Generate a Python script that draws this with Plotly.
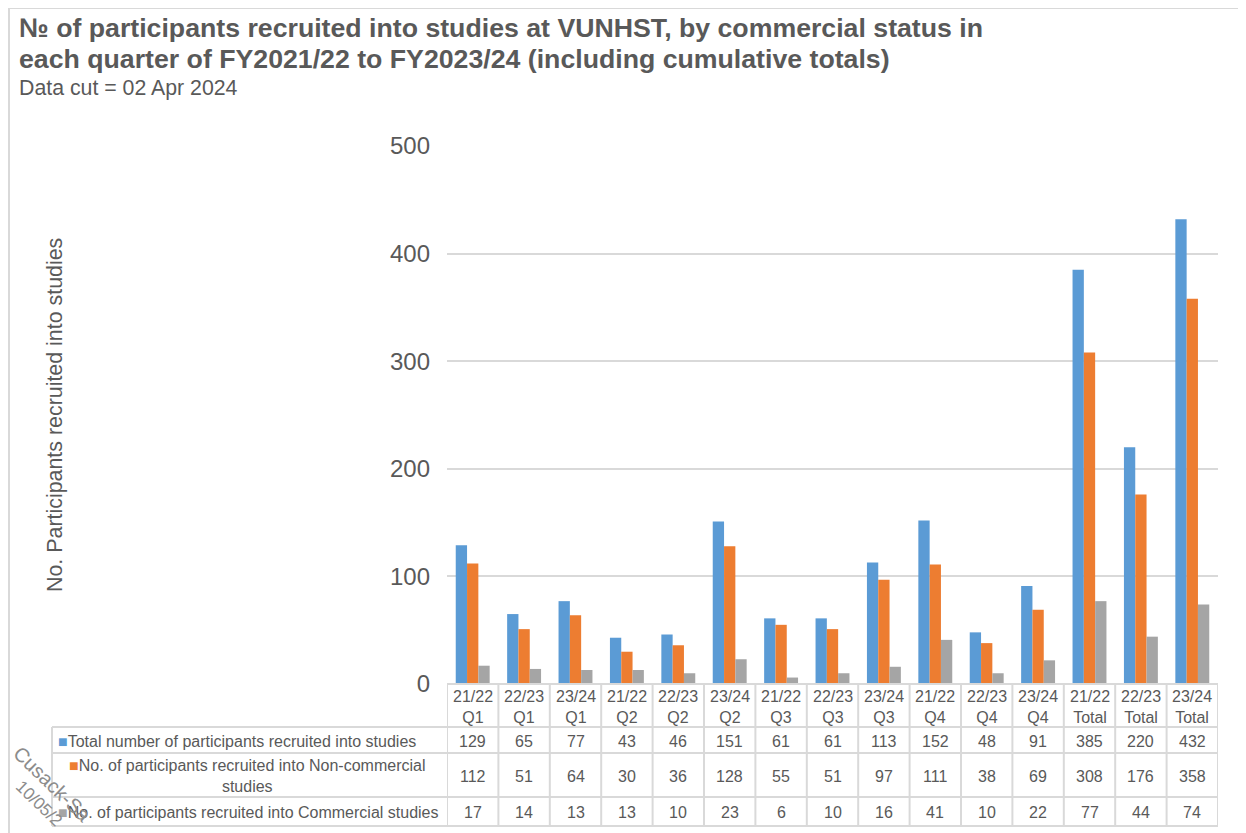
import plotly.graph_objects as go

categories = ["21/22 Q1", "22/23 Q1", "23/24 Q1", "21/22 Q2", "22/23 Q2", "23/24 Q2",
              "21/22 Q3", "22/23 Q3", "23/24 Q3", "21/22 Q4", "22/23 Q4", "23/24 Q4",
              "21/22 Total", "22/23 Total", "23/24 Total"]
total = [129, 65, 77, 43, 46, 151, 61, 61, 113, 152, 48, 91, 385, 220, 432]
noncom = [112, 51, 64, 30, 36, 128, 55, 51, 97, 111, 38, 69, 308, 176, 358]
com = [17, 14, 13, 13, 10, 23, 6, 10, 16, 41, 10, 22, 77, 44, 74]
series_names = ["Total number of participants recruited into studies",
                "No. of participants recruited into Non-commercial<br>studies",
                "No. of participants recruited into Commercial studies"]
colors = ["#5B9BD5", "#ED7D31", "#A5A5A5"]
y_ticks = [0, 100, 200, 300, 400, 500]

# page size and the page's default body margin (figure sits at 8,8 on the page)
PAGE_W, PAGE_H = 1246, 833
OFF = 8
W, H = PAGE_W - OFF, PAGE_H - OFF
FONT = "Arial, Liberation Sans, sans-serif"
TXT = "#595959"
LINE = "#D9D9D9"


def px(x):
    """page x pixel -> paper fraction"""
    return (x - OFF) / W


def py(y):
    """page y pixel -> paper fraction"""
    return 1 - (y - OFF) / H


fig = go.Figure()
for name, vals, col in zip(series_names, [total, noncom, com], colors):
    fig.add_trace(go.Bar(x=categories, y=vals, name=name.replace("<br>", " "),
                         marker=dict(color=col, line=dict(width=0)), showlegend=False))

PLOT_L, PLOT_R, PLOT_T, PLOT_B = 447, 1218, 146, 684
fig.update_layout(
    width=W, height=H, margin=dict(l=0, r=0, t=0, b=0, pad=0, autoexpand=False),
    paper_bgcolor="white", plot_bgcolor="white",
    barmode="group", bargap=0.34, bargroupgap=0,
    font=dict(family=FONT, color=TXT),
    xaxis=dict(domain=[px(PLOT_L), px(PLOT_R)], type="category", automargin=False,
               categoryorder="array", categoryarray=categories,
               range=[-0.5, len(categories) - 0.5],
               showticklabels=False, showgrid=False, zeroline=False,
               showline=False, ticks=""),
    yaxis=dict(domain=[py(PLOT_B), py(PLOT_T)], range=[0, 500], automargin=False,
               tickvals=y_ticks, showgrid=True, gridcolor=LINE, gridwidth=2,
               zeroline=False, showline=False, ticks="",
               ticklabelstandoff=16,
               tickfont=dict(size=24, color=TXT, family=FONT)),
)

shapes = []
# outer chart border (left and top edges visible)
shapes.append(dict(type="rect", xref="paper", yref="paper", x0=px(9), x1=px(PAGE_W + 20),
                   y0=py(PAGE_H + 20), y1=py(OFF), line=dict(color=LINE, width=2)))

# table lines
ROW_HDR_B = 727
ROW_LINES = [727, 753, 797, 826]
LEFT_X = 52
n = len(categories)
shapes.append(dict(type="line", xref="x", yref="paper", x0=-0.5, x1=n - 0.5,
                   y0=py(PLOT_B), y1=py(PLOT_B), line=dict(color=LINE, width=2)))
for yl in ROW_LINES:
    shapes.append(dict(type="line", xref="paper", yref="paper", x0=px(LEFT_X), x1=px(PLOT_R),
                       y0=py(yl), y1=py(yl), line=dict(color=LINE, width=2)))
for i in range(n + 1):
    shapes.append(dict(type="line", xref="x", yref="paper", x0=i - 0.5, x1=i - 0.5,
                       y0=py(PLOT_B), y1=py(ROW_LINES[-1]), line=dict(color=LINE, width=2)))
shapes.append(dict(type="line", xref="paper", yref="paper", x0=px(LEFT_X), x1=px(LEFT_X),
                   y0=py(ROW_HDR_B), y1=py(ROW_LINES[-1]), line=dict(color=LINE, width=2)))

annotations = []
# title (two lines placed separately to match the tighter line spacing)
title_lines = ["№ of participants recruited into studies at VUNHST, by commercial status in",
               "each quarter of FY2021/22 to FY2023/24 (including cumulative totals)"]
for line, yc in zip(title_lines, [28, 59]):
    annotations.append(dict(xref="paper", yref="paper", x=px(17), y=py(yc), xanchor="left", yanchor="middle",
                            align="left", showarrow=False, text=f"<b>{line}</b>",
                            font=dict(size=26.7, color=TXT, family=FONT)))
annotations.append(dict(xref="paper", yref="paper", x=px(17), y=py(88), xanchor="left", yanchor="middle",
                        showarrow=False, text="Data cut = 02 Apr 2024",
                        font=dict(size=21.3, color=TXT, family=FONT)))
# y axis title
annotations.append(dict(xref="paper", yref="paper", x=px(55), y=py((PLOT_T + PLOT_B) / 2),
                        xanchor="center", yanchor="middle", textangle=-90, showarrow=False,
                        text="No. Participants recruited into studies",
                        font=dict(size=21.4, color=TXT, family=FONT)))

# category header labels
for c in categories:
    annotations.append(dict(xref="x", yref="paper", x=c, y=py((PLOT_B + ROW_HDR_B) / 2 + 1),
                            xanchor="center", yanchor="middle", showarrow=False,
                            text=c.replace(" ", "<br>"),
                            font=dict(size=16, color=TXT, family=FONT)))

# table value rows
row_centers = [(ROW_LINES[k] + ROW_LINES[k + 1]) / 2 for k in range(3)]
for vals, yc in zip([total, noncom, com], row_centers):
    for c, v in zip(categories, vals):
        annotations.append(dict(xref="x", yref="paper", x=c, y=py(yc + 1),
                                xanchor="center", yanchor="middle", showarrow=False,
                                text=str(v), font=dict(size=16, color=TXT, family=FONT)))

# row legend labels
for k, (name, col, yc) in enumerate(zip(series_names, colors, row_centers)):
    if "<br>" in name:
        annotations.append(dict(xref="paper", yref="paper", x=px((LEFT_X + PLOT_L) / 2 - 3), y=py(yc + 1),
                                xanchor="center", yanchor="middle", align="center", showarrow=False,
                                text=f"<span style='color:{col}'>■</span>" + name,
                                font=dict(size=16, color=TXT, family=FONT)))
    else:
        annotations.append(dict(xref="paper", yref="paper", x=px(LEFT_X + 4), y=py(yc + 1),
                                xanchor="left", yanchor="middle", showarrow=False,
                                text=f"<span style='color:{col}'>■</span>" + name,
                                font=dict(size=16, color=TXT, family=FONT)))

# watermark (partially visible in the reference)
annotations.append(dict(xref="paper", yref="paper", x=px(52), y=py(784), xanchor="center", yanchor="middle",
                        textangle=44, showarrow=False, text="Cusack-Sa",
                        font=dict(size=20, color="#8C8C8C", family=FONT)))
annotations.append(dict(xref="paper", yref="paper", x=px(39), y=py(803), xanchor="center", yanchor="middle",
                        textangle=44, showarrow=False, text="10/05/2",
                        font=dict(size=17, color="#8C8C8C", family=FONT)))

fig.update_layout(shapes=shapes, annotations=annotations)
fig.write_html("out.html")
